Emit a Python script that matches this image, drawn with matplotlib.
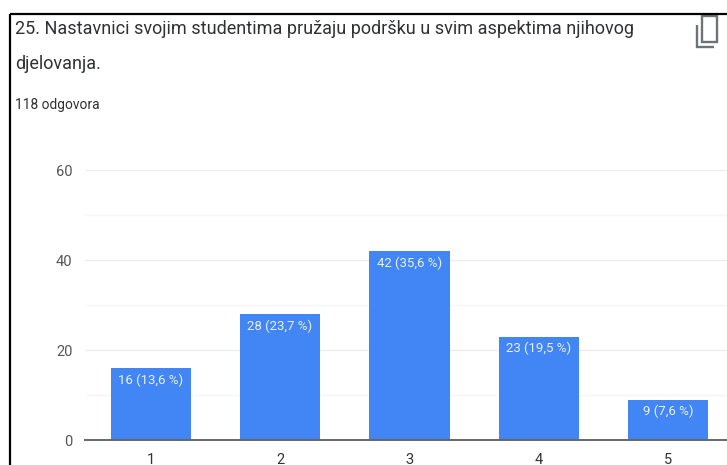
import matplotlib
matplotlib.use('Agg')
import matplotlib.pyplot as plt
from matplotlib.patches import Rectangle
from matplotlib.lines import Line2D

W, H = 727, 465

categories = [1, 2, 3, 4, 5]
counts = [16, 28, 42, 23, 9]
labels = ['16 (13,6 %)', '28 (23,7 %)', '42 (35,6 %)', '23 (19,5 %)', '9 (7,6 %)']
major_ticks = [0, 20, 40, 60]
minor_ticks = [10, 30, 50]

title_lines = ['25. Nastavnici svojim studentima pružaju podršku u svim aspektima njihovog',
               'djelovanja.']
subtitle = '118 odgovora'

plt.rcParams['font.family'] = ['Roboto', 'DejaVu Sans']

fig = plt.figure(figsize=(W / 100, H / 100), dpi=100)

# plot area in pixels: left 85, right edge of image, y=0 at 440, y=60 at 170
ax = fig.add_axes([85 / W, (H - 440) / H, (W - 85) / W, 270 / H])
ax.bar(categories, counts, width=0.618, color='#4285f4', zorder=3)
for c, n, lab in zip(categories, counts, labels):
    ax.annotate(lab, (c, n), xytext=(0, -4), textcoords='offset points', ha='center', va='top',
                color='#e8f0fe', fontsize=9.5, zorder=4)

ax.set_xlim(0.494, 5.452)
ax.set_ylim(0, 60)
ax.set_xticks(categories)
ax.set_yticks(major_ticks)
ax.set_yticks(minor_ticks, minor=True)
ax.grid(axis='y', which='major', color='#ececec', lw=1, zorder=0)
ax.grid(axis='y', which='minor', color='#f6f6f6', lw=1, zorder=0)
ax.tick_params(axis='both', which='both', length=0)
ax.tick_params(axis='y', pad=9, labelsize=10.5, labelcolor='#555555')
ax.tick_params(axis='x', pad=9, labelsize=10.5, labelcolor='#333333')
for name in ['top', 'right', 'left']:
    ax.spines[name].set_visible(False)
ax.spines['bottom'].set_color('#666666')
ax.spines['bottom'].set_linewidth(1.4)
ax.spines['bottom'].set_zorder(5)
ax.set_axisbelow(True)

# header text
fig.text(15 / W, 1 - 29 / H, title_lines[0], fontsize=12.95, color='#303134', va='center')
fig.text(15 / W, 1 - 64 / H, title_lines[1], fontsize=12.95, color='#303134', va='center')
fig.text(15 / W, 1 - 105 / H, subtitle, fontsize=9.9, color='#303134', va='center')

# black frame, top and left only
def px_line(xs, ys, color, lw):
    fig.add_artist(Line2D([x / W for x in xs], [1 - y / H for y in ys], color=color, lw=lw,
                          solid_capstyle='butt', solid_joinstyle='miter'))

px_line([9.5, W], [14, 14], 'black', 1.6)
px_line([9.5, 9.5], [14, H], 'black', 1.6)

# copy icon
fig.add_artist(Rectangle((702 / W, 1 - 42 / H), 15 / W, 26 / H, fill=False, ec='#6f7378', lw=1.7,
                         transform=fig.transFigure))
px_line([697, 697, 714], [25, 47.5, 47.5], '#6f7378', 1.7)

fig.savefig('out.png', dpi=100)
